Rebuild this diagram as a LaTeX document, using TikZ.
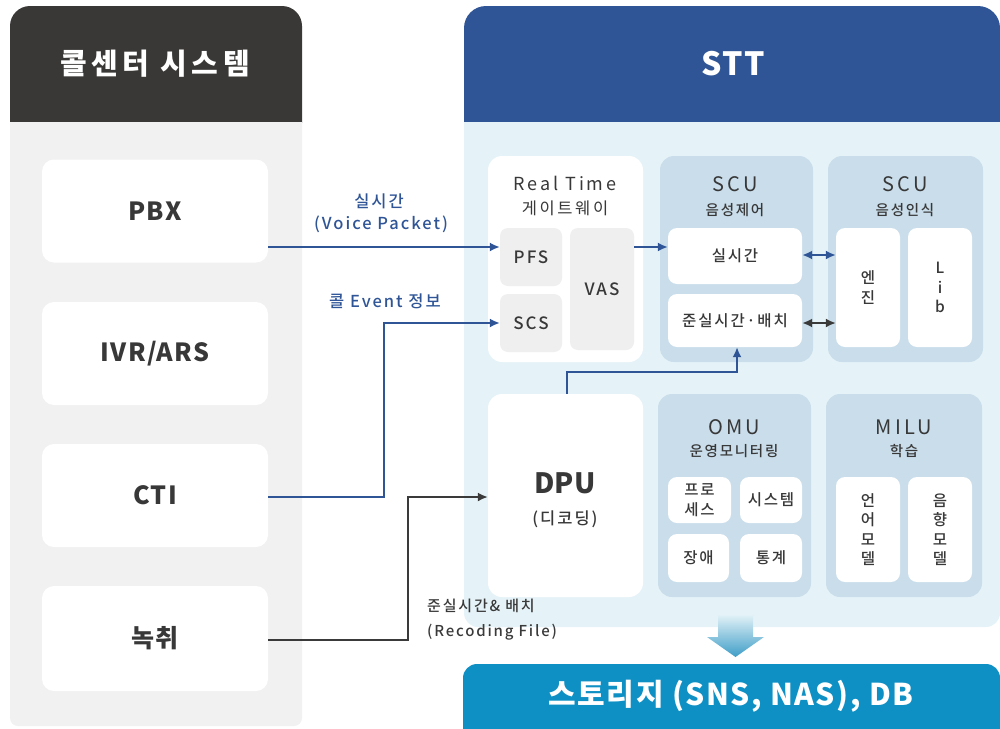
\documentclass[tikz,border=0pt]{standalone}
\usepackage{fontspec}
\setmainfont{Noto Sans CJK KR}
\newfontfamily\wide{Noto Sans CJK KR}[UprightFont=* Medium, LetterSpace=12]
\newfontfamily\wider{Noto Sans CJK KR}[LetterSpace=16]
\newfontfamily\tight{Noto Sans CJK KR}[LetterSpace=5]
\usetikzlibrary{arrows.meta}

\definecolor{callgrey}{HTML}{3A3836}
\definecolor{callbg}{HTML}{F1F1F1}
\definecolor{sttblue}{HTML}{2F5596}
\definecolor{sttbg}{HTML}{E5F3F8}
\definecolor{unitbg}{HTML}{C9DDEA}
\definecolor{gwgrey}{HTML}{EFEFEF}
\definecolor{flowblue}{HTML}{2F5597}
\definecolor{flowdark}{HTML}{3A3A3A}
\definecolor{txt}{HTML}{383838}
\definecolor{storblue}{HTML}{0E90C5}
\definecolor{downblue}{HTML}{3E9DC7}

\tikzset{
  sysbox/.style={fill=white, rounded corners=12pt, inner sep=0pt, text=txt,
    font=\tight\bfseries\fontsize{25}{28}\selectfont},
  gwbox/.style={fill=gwgrey, rounded corners=8pt, inner sep=0pt, text=txt,
    font=\wide\fontsize{17}{19}\selectfont},
  unit/.style={fill=unitbg, rounded corners=14pt, inner sep=0pt},
  inbox/.style={fill=white, rounded corners=9pt, inner sep=0pt, text=txt, align=center,
    font=\wide\fontsize{15.5}{19.5}\selectfont},
  unitname/.style={text=txt, inner sep=0pt, font=\wider\fontsize{20}{22}\selectfont},
  unitsub/.style={text=txt, inner sep=0pt, font=\wide\fontsize{14.5}{16}\selectfont},
  flowlbl/.style={text=flowblue, inner sep=0pt, font=\wide\fontsize{16.5}{18}\selectfont},
  reclbl/.style={text=flowdark, inner sep=0pt, anchor=west, font=\wide\fontsize{15}{18}\selectfont},
  flow/.style={-{Latex[length=10pt,width=9pt]}, line width=1.8pt, draw=flowblue},
  duplex/.style={{Latex[length=10pt,width=9pt]}-{Latex[length=10pt,width=9pt]}, line width=1.8pt},
}

\begin{document}
\begin{tikzpicture}[x=1pt, y=-1pt]
\useasboundingbox (0,0) rectangle (1000,728);

% call centre panel
\begin{scope}
  \clip (10,6) rectangle (302,122);
  \fill[callgrey, rounded corners=20pt] (10,6) rectangle (302,160);
\end{scope}
\begin{scope}
  \clip (10,122) rectangle (302,728);
  \fill[callbg, rounded corners=8pt] (10,90) rectangle (302,726);
\end{scope}
\node[text=white, inner sep=0pt, font=\wider\bfseries\fontsize{29}{32}\selectfont] (calltitle) at (155,64) {콜센터 시스템};

\node[sysbox, minimum width=226pt, minimum height=103pt] (pbx) at (155,211) {PBX};
\node[sysbox, minimum width=226pt, minimum height=103pt] (ivr) at (155,353.5) {IVR/ARS};
\node[sysbox, minimum width=226pt, minimum height=103pt] (cti) at (155,495.5) {CTI};
\node[sysbox, minimum width=226pt, minimum height=105pt] (rec) at (155,638.5) {녹취};

% STT panel
\begin{scope}
  \clip (464,6) rectangle (1000,122);
  \fill[sttblue, rounded corners=22pt] (464,6) rectangle (1000,160);
\end{scope}
\begin{scope}
  \clip (464,122) rectangle (1000,728);
  \fill[sttbg, rounded corners=14pt] (464,90) rectangle (1000,627);
\end{scope}
\node[text=white, inner sep=0pt, font=\tight\bfseries\fontsize{32}{34}\selectfont] (stttitle) at (733,64) {STT};

% gateway
\node[inbox, minimum width=155pt, minimum height=206pt, rounded corners=14pt] (gw) at (565.5,259) {};
\node[unitname, font=\wider\fontsize{18}{20}\selectfont] (gwname) at (565,183) {Real Time};
\node[unitname, font=\wider\fontsize{16.5}{20}\selectfont] (gwsub) at (565,208) {게이트웨이};
\node[gwbox, minimum width=62pt, minimum height=58pt] (pfs) at (531,257) {PFS};
\node[gwbox, minimum width=62pt, minimum height=58pt] (scs) at (531,323) {SCS};
\node[gwbox, minimum width=64pt, minimum height=122pt] (vas) at (602,289) {VAS};

% SCU control
\node[unit, minimum width=153pt, minimum height=206pt] (scuctl) at (736.5,259) {};
\node[unitname] (scuctlname) at (735,184) {SCU};
\node[unitsub] (scuctlsub) at (735,210) {음성제어};
\node[inbox, minimum width=134pt, minimum height=56pt] (rtime) at (735,256) {실시간};
\node[inbox, minimum width=134pt, minimum height=53pt] (batch) at (735,320.5) {준실시간·배치};

% SCU recognition
\node[unit, minimum width=155pt, minimum height=206pt] (scurec) at (905.5,259) {};
\node[unitname] (scurecname) at (905,184) {SCU};
\node[unitsub] (scurecsub) at (905,210) {음성인식};
\node[inbox, minimum width=64pt, minimum height=119pt] (engine) at (868,287.5) {엔\\진};
\node[inbox, minimum width=64pt, minimum height=119pt] (lib) at (940,287.5) {L\\i\\b};

% DPU
\node[inbox, minimum width=155pt, minimum height=203pt, rounded corners=14pt] (dpu) at (565.5,495.5) {};
\node[text=txt, inner sep=0pt, font=\bfseries\fontsize{28}{30}\selectfont] (dpuname) at (565,483) {DPU};
\node[text=txt, inner sep=0pt, font=\wide\fontsize{16.5}{18}\selectfont] (dpusub) at (565,519) {(디코딩)};

% OMU
\node[unit, minimum width=153pt, minimum height=203pt] (omu) at (734.5,495.5) {};
\node[unitname] (omuname) at (734,427) {OMU};
\node[unitsub] (omusub) at (734,451) {운영모니터링};
\node[inbox, minimum width=63pt, minimum height=46pt] (proc) at (699.5,500) {프로\\세스};
\node[inbox, minimum width=62pt, minimum height=46pt] (sysm) at (771,500) {시스템};
\node[inbox, minimum width=61pt, minimum height=48pt] (fault) at (698.5,558) {장애};
\node[inbox, minimum width=62pt, minimum height=48pt] (stat) at (771,558) {통계};

% MILU
\node[unit, minimum width=156pt, minimum height=203pt] (milu) at (904,495.5) {};
\node[unitname] (miluname) at (904,427) {MILU};
\node[unitsub] (milusub) at (904,451) {학습};
\node[inbox, minimum width=64pt, minimum height=105pt] (lm) at (868,529.5) {언\\어\\모\\델};
\node[inbox, minimum width=64pt, minimum height=105pt] (am) at (940,529.5) {음\\향\\모\\델};

% flows
\node[flowlbl] (rtlbl) at (379,201) {실시간};
\node[flowlbl] (vplbl) at (381,224) {(Voice Packet)};
\node[flowlbl] (evlbl) at (385,301) {콜 Event 정보};
\node[reclbl] (recl1) at (427,606) {준실시간\& 배치};
\node[reclbl] (recl2) at (427,632) {(Recoding File)};

\draw[flow] (pbx.east |- 0,247) -- (pfs.west |- 0,247);
\draw[flow] (cti.east |- 0,497) -- (384,497) -- (384,323) -- (scs.west |- 0,323);
\draw[flow, draw=flowdark] (rec.east |- 0,640) -- (408,640) -- (408,497) -- (dpu.west |- 0,497);
\draw[flow] (vas.east |- 0,247) -- (rtime.west |- 0,247);
\draw[duplex, flowblue] (rtime.east |- 0,255) -- (engine.west |- 0,255);
\draw[duplex, flowdark] (batch.east |- 0,323) -- (engine.west |- 0,323);
\draw[flow] (dpu.north -| 567,0) -- (567,372) -- (737,372) -- (batch.south -| 737,0);

% storage
\shade[top color=sttbg, bottom color=downblue] (718,614) -- (753,614) -- (753,637) -- (764,637)
  -- (735.5,657) -- (707,637) -- (718,637) -- cycle;
\begin{scope}
  \clip (0,0) rectangle (1000,728);
  \fill[storblue, rounded corners=14pt] (463,664) rectangle (1000,760);
\end{scope}
\node[text=white, inner sep=0pt, font=\tight\bfseries\fontsize{30}{32}\selectfont] (storname) at (731,696) {스토리지 (SNS, NAS), DB};
\end{tikzpicture}
\end{document}
